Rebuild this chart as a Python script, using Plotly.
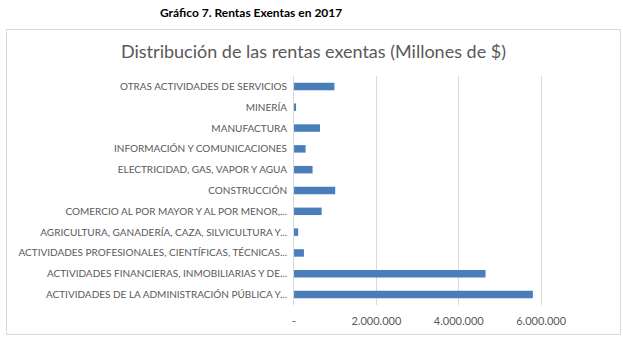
import plotly.graph_objects as go

W, H = 623, 339

categories = [
    "ACTIVIDADES DE LA ADMINISTRACIÓN PÚBLICA Y...",
    "ACTIVIDADES FINANCIERAS, INMOBILIARIAS Y DE...",
    "ACTIVIDADES PROFESIONALES, CIENTÍFICAS, TÉCNICAS...",
    "AGRICULTURA, GANADERÍA, CAZA, SILVICULTURA Y...",
    "COMERCIO AL POR MAYOR Y AL POR MENOR,...",
    "CONSTRUCCIÓN",
    "ELECTRICIDAD, GAS, VAPOR Y AGUA",
    "INFORMACIÓN Y COMUNICACIONES",
    "MANUFACTURA",
    "MINERÍA",
    "OTRAS ACTIVIDADES DE SERVICIOS",
]
values = [5800000, 4650000, 240000, 100000, 670000, 1000000, 450000, 280000, 630000, 30000, 980000]

tick_vals = [0, 2000000, 4000000, 6000000]
tick_text = ["-", "2.000.000", "4.000.000", "6.000.000"]

chart_title = "Distribución de las rentas exentas (Millones de $)"
figure_caption = "Gráfico 7. Rentas Exentas en 2017"

FONT = "Lato"
GRAY = "#595959"

fig = go.Figure(go.Bar(
    x=values, y=categories, orientation="h",
    marker=dict(color="#4a7ebb", line=dict(width=0)),
    width=0.36,
))

x0, x1 = 293, 609
yt, yb = 76, 305
fig.update_layout(
    width=W, height=H,
    margin=dict(l=0, r=0, t=0, b=0),
    paper_bgcolor="white", plot_bgcolor="white",
    showlegend=False,
    font=dict(family=FONT, color=GRAY),
    xaxis=dict(
        domain=[x0 / W, x1 / W], range=[0, 7650000],
        tickvals=tick_vals, ticktext=tick_text,
        tickfont=dict(size=11, color=GRAY, family=FONT),
        showgrid=True, gridcolor="#d9d9d9", gridwidth=1,
        zeroline=False, showline=False, ticks="", ticklen=0,
        ticklabelstandoff=8,
        fixedrange=True,
    ),
    yaxis=dict(
        domain=[1 - yb / H, 1 - yt / H],
        type="category", categoryorder="array", categoryarray=categories,
        tickfont=dict(size=10, color=GRAY, family=FONT),
        showgrid=False, zeroline=False,
        showline=True, linecolor="#d9d9d9", linewidth=1,
        ticks="", ticklabelstandoff=4,
        fixedrange=True,
    ),
    shapes=[dict(
        type="rect", xref="paper", yref="paper",
        x0=4.5 / W, x1=620.5 / W, y0=1 - 334.5 / H, y1=1 - 29.5 / H,
        line=dict(color="#d9d9d9", width=1), fillcolor="rgba(0,0,0,0)", layer="below",
    )],
    annotations=[
        dict(text="<b>" + figure_caption + "</b>", xref="paper", yref="paper",
             x=250 / W, y=1 - 12 / H, xanchor="center", yanchor="middle",
             showarrow=False, font=dict(size=12, color="black", family="Lato")),
        dict(text=chart_title, xref="paper", yref="paper",
             x=313 / W, y=1 - 51 / H, xanchor="center", yanchor="middle",
             showarrow=False, font=dict(size=18, color=GRAY, family="Lato")),
    ],
)

fig.write_html("out.html")
